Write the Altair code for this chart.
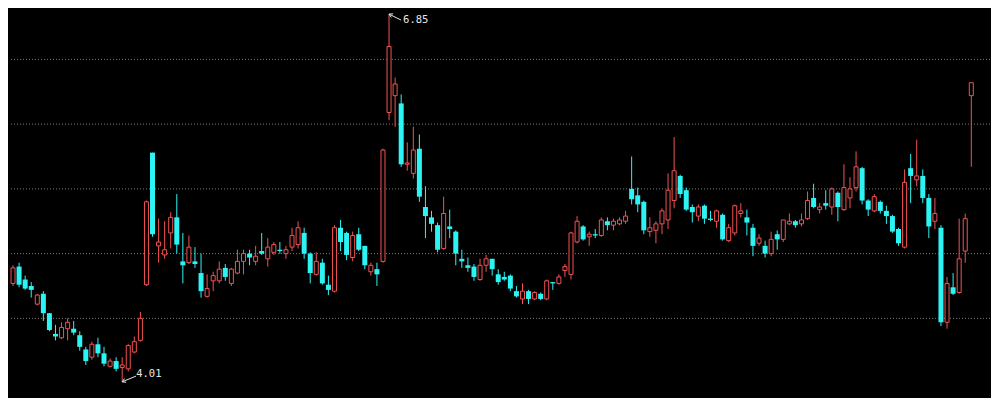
import altair as alt
import pandas as pd

# OHLC values (index 0 .. 158)
opens = [4.77, 4.90, 4.80, 4.75, 4.61, 4.69, 4.54, 4.38, 4.35, 4.42,
         4.42, 4.37, 4.26, 4.20, 4.30, 4.23, 4.13, 4.17, 4.12, 4.11,
         4.24, 4.33, 4.76, 5.78, 5.06, 4.99, 5.16, 5.28, 4.94, 4.93,
         4.94, 4.85, 4.67, 4.79, 4.79, 4.89, 4.77, 4.85, 4.94, 5.00,
         4.94, 5.02, 4.96, 5.01, 5.03, 5.00, 5.05, 5.07, 5.16, 5.00,
         4.84, 4.93, 4.76, 4.71, 5.20, 5.16, 4.97, 5.15, 5.06, 4.86,
         4.88, 4.94, 6.09, 6.22, 6.16, 5.69, 5.62, 5.81, 5.36, 5.28,
         5.22, 5.04, 5.21, 5.17, 4.96, 4.91, 4.90, 4.80, 4.91, 4.96,
         4.84, 4.82, 4.83, 4.71, 4.65, 4.71, 4.65, 4.69, 4.65, 4.78,
         4.77, 4.87, 4.84, 5.09, 5.21, 5.13, 5.15, 5.14, 5.25, 5.22,
         5.23, 5.25, 5.50, 5.45, 5.40, 5.17, 5.18, 5.23, 5.26, 5.41,
         5.60, 5.49, 5.36, 5.29, 5.37, 5.27, 5.25, 5.30, 5.10, 5.16,
         5.31, 5.28, 5.20, 5.08, 5.06, 5.00, 5.15, 5.11, 5.23, 5.25,
         5.23, 5.27, 5.43, 5.34, 5.39, 5.36, 5.47, 5.34, 5.43, 5.51,
         5.66, 5.41, 5.33, 5.40, 5.33, 5.29, 5.19, 5.05, 5.66, 5.57,
         5.60, 5.43, 5.25, 5.20, 4.47, 4.74, 4.70, 5.02, 6.22]
highs = [4.91, 4.93, 4.83, 4.78, 4.69, 4.71, 4.54, 4.45, 4.47, 4.50,
         4.48, 4.40, 4.28, 4.32, 4.35, 4.28, 4.19, 4.20, 4.20, 4.30,
         4.36, 4.55, 5.41, 5.78, 5.27, 5.25, 5.32, 5.46, 5.16, 5.14,
         5.05, 5.00, 4.84, 4.86, 4.94, 4.92, 4.89, 5.03, 5.03, 5.03,
         5.06, 5.16, 5.12, 5.09, 5.09, 5.06, 5.20, 5.25, 5.20, 5.01,
         5.01, 4.96, 4.83, 5.22, 5.26, 5.17, 5.17, 5.20, 5.06, 4.93,
         4.93, 5.81, 6.85, 6.36, 6.23, 5.86, 5.98, 5.92, 5.52, 5.33,
         5.24, 5.44, 5.34, 5.18, 5.03, 4.97, 4.92, 4.96, 4.99, 4.96,
         4.88, 4.86, 4.84, 4.75, 4.77, 4.72, 4.71, 4.70, 4.80, 4.78,
         4.84, 4.92, 5.17, 5.29, 5.22, 5.17, 5.19, 5.28, 5.28, 5.27,
         5.28, 5.33, 5.75, 5.51, 5.41, 5.28, 5.25, 5.35, 5.62, 5.90,
         5.61, 5.51, 5.38, 5.38, 5.38, 5.33, 5.34, 5.31, 5.23, 5.38,
         5.39, 5.34, 5.23, 5.15, 5.10, 5.17, 5.18, 5.26, 5.31, 5.26,
         5.31, 5.48, 5.54, 5.39, 5.49, 5.51, 5.48, 5.69, 5.59, 5.79,
         5.67, 5.42, 5.46, 5.41, 5.37, 5.30, 5.20, 5.65, 5.77, 5.88,
         5.65, 5.46, 5.43, 5.22, 4.82, 4.85, 5.27, 5.31, 6.32]
lows = [4.75, 4.74, 4.72, 4.66, 4.60, 4.48, 4.40, 4.33, 4.34, 4.33,
        4.37, 4.25, 4.14, 4.18, 4.20, 4.13, 4.12, 4.09, 4.01, 4.09,
        4.23, 4.32, 4.75, 5.13, 4.93, 4.96, 5.04, 5.00, 4.77, 4.92,
        4.89, 4.66, 4.66, 4.71, 4.77, 4.79, 4.75, 4.84, 4.84, 4.91,
        4.91, 4.99, 4.90, 4.99, 5.00, 4.96, 5.02, 5.04, 4.96, 4.77,
        4.83, 4.76, 4.68, 4.70, 5.02, 4.95, 4.94, 5.02, 4.88, 4.83,
        4.75, 4.93, 6.03, 5.98, 5.67, 5.64, 5.58, 5.40, 5.12, 5.17,
        5.01, 5.03, 5.12, 4.91, 4.89, 4.86, 4.79, 4.79, 4.86, 4.83,
        4.76, 4.79, 4.71, 4.66, 4.61, 4.61, 4.64, 4.64, 4.64, 4.72,
        4.76, 4.82, 4.80, 5.08, 5.10, 5.06, 5.12, 5.13, 5.18, 5.18,
        5.22, 5.23, 5.38, 5.32, 5.15, 5.13, 5.08, 5.15, 5.19, 5.35,
        5.43, 5.33, 5.24, 5.25, 5.23, 5.25, 5.20, 5.10, 5.09, 5.14,
        5.28, 5.14, 4.98, 5.06, 4.97, 4.98, 5.03, 5.09, 5.22, 5.20,
        5.21, 5.26, 5.35, 5.31, 5.34, 5.30, 5.25, 5.33, 5.35, 5.48,
        5.38, 5.29, 5.32, 5.31, 5.23, 5.16, 5.06, 5.04, 5.39, 5.52,
        5.39, 5.12, 5.19, 4.44, 4.42, 4.68, 4.69, 4.93, 5.67]
closes = [4.89, 4.76, 4.73, 4.72, 4.68, 4.54, 4.41, 4.36, 4.43, 4.47,
          4.39, 4.28, 4.17, 4.30, 4.23, 4.15, 4.17, 4.11, 4.14, 4.29,
          4.32, 4.50, 5.40, 5.15, 5.09, 5.03, 5.28, 5.07, 4.91, 5.05,
          4.92, 4.71, 4.73, 4.83, 4.88, 4.82, 4.88, 4.94, 5.00, 4.97,
          4.98, 5.00, 5.05, 5.07, 5.02, 5.03, 5.14, 5.20, 5.00, 4.85,
          4.94, 4.77, 4.72, 5.20, 5.09, 4.99, 5.14, 5.03, 4.91, 4.91,
          4.84, 5.80, 6.60, 6.31, 5.69, 5.70, 5.80, 5.44, 5.29, 5.23,
          5.03, 5.31, 5.19, 5.00, 4.94, 4.89, 4.82, 4.91, 4.96, 4.88,
          4.78, 4.80, 4.73, 4.67, 4.71, 4.65, 4.70, 4.65, 4.79, 4.77,
          4.82, 4.90, 5.16, 5.25, 5.11, 5.15, 5.14, 5.26, 5.22, 5.25,
          5.26, 5.29, 5.42, 5.38, 5.18, 5.20, 5.23, 5.33, 5.49, 5.64,
          5.46, 5.34, 5.32, 5.36, 5.27, 5.26, 5.33, 5.11, 5.20, 5.37,
          5.33, 5.24, 5.06, 5.12, 5.00, 5.11, 5.11, 5.26, 5.25, 5.22,
          5.26, 5.41, 5.36, 5.36, 5.37, 5.50, 5.36, 5.51, 5.50, 5.67,
          5.41, 5.34, 5.44, 5.33, 5.29, 5.17, 5.08, 5.55, 5.60, 5.60,
          5.43, 5.21, 5.31, 4.47, 4.77, 4.69, 4.96, 5.27, 6.32]

grid_levels = [4.5, 5.0, 5.5, 6.0, 6.5]

n = len(opens)
df = pd.DataFrame({"i": list(range(n)), "open": opens, "high": highs,
                   "low": lows, "close": closes})
df["dir"] = ["up" if c >= o else "down" for o, c in zip(opens, closes)]

hi_i = highs.index(max(highs))
lo_i = lows.index(min(lows))
hi_df = pd.DataFrame({"i": [hi_i], "p": [max(highs)]})
lo_df = pd.DataFrame({"i": [lo_i], "p": [min(lows)]})

RED = "#f25252"
CYAN = "#2cf4f4"
WHITE = "#e6e6e6"

xs = alt.Scale(domain=[0.16, 160.26], nice=False, zero=False)
ys = alt.Scale(domain=[3.885, 6.897], nice=False, zero=False)
X = alt.X("i:Q", scale=xs, axis=None)

grid = alt.Chart(pd.DataFrame({"level": grid_levels})).mark_rule(
    color="#7a7a7a", strokeDash=[1, 2], strokeWidth=1
).encode(y=alt.Y("level:Q", scale=ys, axis=None))

base = alt.Chart(df)

wicks = base.mark_rule(strokeWidth=1, clip=True).encode(
    x=X,
    y=alt.Y("low:Q", scale=ys, axis=None),
    y2="high:Q",
    color=alt.Color("dir:N", scale=alt.Scale(domain=["up", "down"], range=[RED, CYAN]), legend=None),
)

up_bodies = base.transform_filter("datum.dir == 'up'").mark_bar(
    size=4, fill="#000000", stroke=RED, strokeWidth=1, clip=True
).encode(x=X, y=alt.Y("open:Q", scale=ys, axis=None), y2="close:Q")

down_bodies = base.transform_filter("datum.dir == 'down'").mark_bar(
    size=5, color=CYAN, clip=True
).encode(x=X, y=alt.Y("open:Q", scale=ys, axis=None), y2="close:Q")

hi_arrow = alt.Chart(hi_df).mark_point(
    shape="M0,0L2,1M0,0L0.37,0.56M0,0L0.67,-0.04", size=144,
    filled=False, color=WHITE, strokeWidth=1, opacity=1
).encode(x=X, y=alt.Y("p:Q", scale=ys, axis=None))

lo_arrow = alt.Chart(lo_df).mark_point(
    shape="M0,0L2.3,-0.95M0,0L0.66,0.08M0,0L0.4,-0.55", size=144,
    filled=False, color=WHITE, strokeWidth=1, opacity=1
).encode(x=X, y=alt.Y("p:Q", scale=ys, axis=None))

hi_label = alt.Chart(hi_df).mark_text(
    align="left", baseline="middle", dx=14, dy=6, color=WHITE,
    font="DejaVu Sans Mono", fontSize=10.5
).encode(x=X, y=alt.Y("p:Q", scale=ys, axis=None), text=alt.Text("p:Q", format=".2f"))

lo_label = alt.Chart(lo_df).mark_text(
    align="left", baseline="middle", dx=14, dy=-8, color=WHITE,
    font="DejaVu Sans Mono", fontSize=10.5
).encode(x=X, y=alt.Y("p:Q", scale=ys, axis=None), text=alt.Text("p:Q", format=".2f"))

chart = alt.layer(
    grid, wicks, up_bodies, down_bodies, hi_arrow, lo_arrow, hi_label, lo_label
).properties(
    width=983, height=390, background="#000000", padding=0,
    autosize=alt.AutoSizeParams(type="fit", contains="padding"),
).configure_view(stroke=None)

chart.save("out.html", embed_options={"renderer": "svg", "actions": False})
